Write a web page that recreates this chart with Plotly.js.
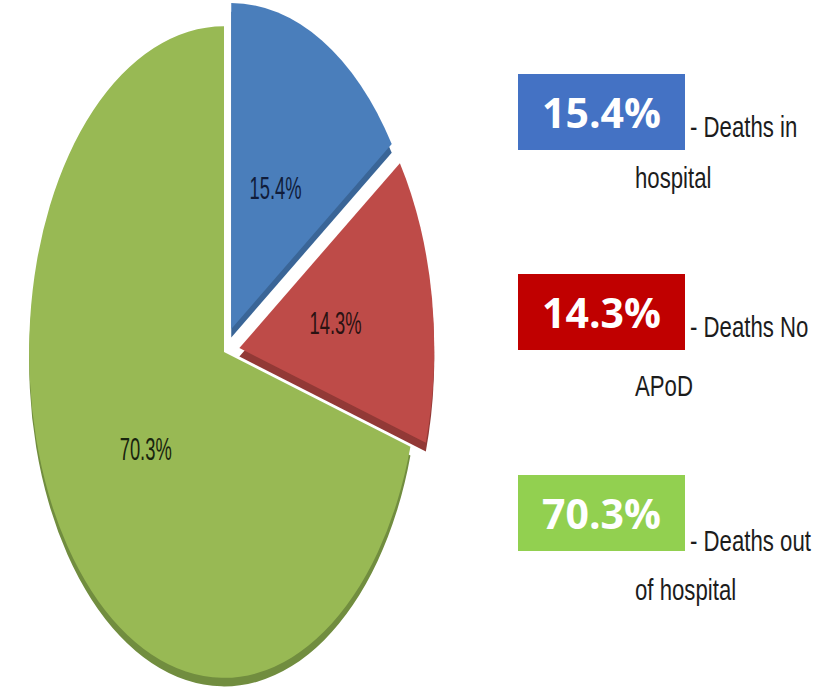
<!DOCTYPE html>
<html>
<head>
<meta charset="utf-8">
<script src="https://cdn.plot.ly/plotly-3.0.1.min.js"></script>
<style>
  body { margin: 0; background: #fff; overflow: hidden; }
  #plot { width: 839px; height: 695px; }
</style>
</head>
<body>
<div id="plot"></div>
<script>
// slice data
const sliceLabels = ['Deaths in hospital', 'Deaths No APoD', 'Deaths out of hospital'];
const sliceValues = [15.4, 14.3, 70.3];
const sliceColors = ['#4a7ebb', '#be4b48', '#98b954'];
const sideColors = ['#3a6597', '#923936', '#718d3f'];
const labelColors = ['#101c3a', '#2a1212', '#18240e'];

// legend boxes on the right
const boxText = ['15.4%', '14.3%', '70.3%'];
const boxColors = ['#4472c4', '#c00000', '#92d050'];
const descLine1 = ['- Deaths in', '- Deaths No', '- Deaths out'];
const descLine2 = ['hospital', 'APoD', 'of hospital'];

const W = 839, H = 695;
const boxTop = [74, 274, 475];      // px from top
const line1Y = [126, 326, 540];
const line2Y = [178, 385, 589];

const pulls = [0.08, 0.08, 0];
const depth = 0.012; // fake 3d side, as fraction of height
const labelRadius = 0.745; // small clear pie that carries the blue/red labels nearer the centre

const mid = (1 + depth) / 2;
const labelHalf = (1 - depth) / 2 * labelRadius;

// darker copy underneath gives the 3d edge
let sidePie = {
    type: 'pie',
    values: sliceValues,
    labels: sliceLabels,
    sort: false,
    direction: 'clockwise',
    rotation: 0,
    pull: pulls,
    marker: { colors: sideColors, line: { width: 0 } },
    textinfo: 'none',
    hoverinfo: 'skip',
    showlegend: false,
    domain: { x: [0, 1], y: [0, 1 - depth] }
};

let mainPie = {
    type: 'pie',
    values: sliceValues,
    labels: sliceLabels,
    sort: false,
    direction: 'clockwise',
    rotation: 0,
    pull: pulls,
    marker: { colors: sliceColors, line: { width: 0 } },
    texttemplate: '%{value}%',
    textposition: ['none', 'none', 'inside'],
    insidetextorientation: 'horizontal',
    insidetextfont: { family: 'Liberation Sans, Arial, sans-serif', size: 30, color: labelColors },
    hoverinfo: 'label+value',
    showlegend: false,
    domain: { x: [0, 1], y: [depth, 1] }
};

let labelPie = {
    type: 'pie',
    values: sliceValues,
    labels: sliceLabels,
    sort: false,
    direction: 'clockwise',
    rotation: 0,
    pull: pulls,
    marker: { colors: ['rgba(0,0,0,0)', 'rgba(0,0,0,0)', 'rgba(0,0,0,0)'], line: { width: 0 } },
    texttemplate: '%{value}%',
    textposition: ['inside', 'inside', 'none'],
    insidetextorientation: 'horizontal',
    insidetextfont: { family: 'Liberation Sans, Arial, sans-serif', size: 30, color: labelColors },
    hoverinfo: 'skip',
    showlegend: false,
    domain: { x: [0, 1], y: [mid - labelHalf, mid + labelHalf] }
};

const descFont = { family: 'Liberation Sans, Arial, sans-serif', size: 30, color: '#1c1c1c' };

let annotations = [];
for (let i = 0; i < boxText.length; i++) {
    annotations.push({
        xref: 'paper', yref: 'paper',
        x: 518 / W, y: 1 - boxTop[i] / H,
        xanchor: 'left', yanchor: 'top',
        width: 167, height: 76,
        bgcolor: boxColors[i],
        borderpad: 0, borderwidth: 0,
        showarrow: false,
        align: 'center', valign: 'middle',
        text: '<b>' + boxText[i] + '</b>',
        font: { family: 'Open Sans, sans-serif', size: 41, color: '#ffffff' }
    });
    annotations.push({
        xref: 'paper', yref: 'paper',
        x: 688 / W, y: 1 - line1Y[i] / H,
        xanchor: 'left', yanchor: 'middle',
        showarrow: false,
        text: descLine1[i],
        font: descFont
    });
    annotations.push({
        xref: 'paper', yref: 'paper',
        x: 633 / W, y: 1 - line2Y[i] / H,
        xanchor: 'left', yanchor: 'middle',
        showarrow: false,
        text: descLine2[i],
        font: descFont
    });
}

const layout = {
    width: W,
    height: H,
    margin: { l: 0, r: 0, t: 0, b: 0 },
    paper_bgcolor: '#ffffff',
    showlegend: false,
    annotations: annotations
};

const config = { displayModeBar: false };

function squeezeX(el, sx) {
    // narrow an svg element sideways, keeping its left edge in place
    let bb = el.getBBox();
    el.setAttribute('transform',
        'translate(' + bb.x + ',0) scale(' + sx + ',1) translate(' + (-bb.x) + ',0)');
}

Plotly.newPlot('plot', [sidePie, mainPie, labelPie], layout, config).then(function (gd) {
    // the original pie is squeezed sideways into an ellipse,
    // so squash the pie layer around its centre and move it left
    let cx = W / 2;
    let cy = H * (1 - mid);
    let sx = 0.613, sy = 1.025;
    let tx = 224, ty = 352;
    let g = gd.querySelector('.pielayer');
    g.setAttribute('transform',
        'translate(' + tx + ',' + ty + ') scale(' + sx + ',' + sy + ') translate(' + (-cx) + ',' + (-cy) + ')');

    // the side captions are set in a condensed face
    for (let i = 0; i < boxText.length; i++) {
        [i * 3 + 1, i * 3 + 2].forEach(function (k) {
            let t = gd.querySelector('.annotation[data-index="' + k + '"] .annotation-text');
            if (t) squeezeX(t, 0.74);
        });
    }
});
</script>
</body>
</html>
